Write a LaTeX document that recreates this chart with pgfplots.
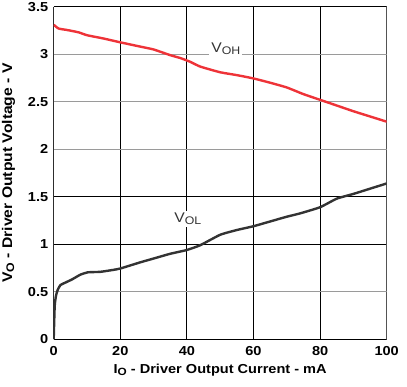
\documentclass[border=0pt]{standalone}
\usepackage{fontspec}
\setmainfont{Liberation Sans}
\newfontfamily\widefont[FakeStretch=1.12]{Liberation Sans}
\usepackage{pgfplots}
\pgfplotsset{compat=1.18}
\definecolor{redline}{HTML}{EE3338}
\definecolor{darkline}{HTML}{333333}
\definecolor{gridgray}{HTML}{9A9A9A}
\newcommand{\sub}[2]{{\fontsize{#1}{#1}\selectfont\raisebox{-0.35ex}{#2}}}
\begin{document}
\begin{tikzpicture}
\path[use as bounding box] (-53.7pt,-46.7pt) rectangle (353.3pt,339.3pt);
\begin{axis}[
  scale only axis,
  width=333pt, height=332.6pt,
  xmin=0, xmax=100, ymin=0, ymax=3.5,
  xtick={0,20,40,60,80,100},
  ytick={0,0.5,1,1.5,2,2.5,3,3.5},
  yticklabels={0,0.5,1,1.5,2,2.5,3,3.5},
  major tick length=0pt,
  axis line style={draw=none},
  xmajorgrids=true, ymajorgrids=true,
  major x grid style={black, line width=1pt},
  major y grid style={gridgray, line width=1.4pt},
  extra y ticks={1,1.5},
  extra y tick labels={},
  extra y tick style={ymajorgrids=true, major y grid style={black, line width=1pt}},
  tick label style={font=\widefont\fontsize{13}{15}\selectfont\bfseries},
  /pgf/number format/assume math mode=true,
  xticklabel style={yshift=-4pt},
  yticklabel style={xshift=-2pt},
  xlabel={I\sub{10.5}{O} - Driver Output Current - mA},
  ylabel={V\sub{11}{O} - Driver Output Voltage - V},
  xlabel style={font=\widefont\fontsize{13}{15}\selectfont\bfseries, yshift=-1pt},
  ylabel style={font=\widefont\fontsize{14}{16}\selectfont\bfseries, yshift=6pt},
  clip=true,
]
\draw[black, line width=1pt] (rel axis cs:0,1)--(rel axis cs:1,1);
\draw[black, line width=1pt] (rel axis cs:0,0)--(rel axis cs:1,0);
\draw[gray, line width=1pt] (rel axis cs:0,0)--(rel axis cs:0,1);
\draw[gray, line width=1pt] (rel axis cs:1,0)--(rel axis cs:1,1);
\addplot[redline, line width=2.4pt, smooth, tension=0.3] coordinates {
(0,3.31) (1.5,3.27) (4,3.255) (7.5,3.23) (10,3.20) (15,3.165) (20,3.125) (26,3.08) (30,3.05) (35,2.99) (38,2.96) (41,2.92) (44,2.87) (50,2.81) (55,2.78) (60,2.745) (65,2.70) (70,2.65) (75,2.58) (80,2.52) (85,2.46) (90,2.40) (95,2.345) (100,2.29)};
\addplot[darkline, line width=2.4pt, smooth, tension=0.3] coordinates {
(0,0) (0.3,0.35) (0.7,0.46) (1.2,0.52) (2,0.57) (3.7,0.60) (5.5,0.63) (8,0.68) (10.3,0.705) (14,0.71) (17.8,0.73) (20,0.745) (26,0.81) (30,0.85) (35,0.90) (40,0.94) (44,0.99) (50,1.10) (55,1.15) (60,1.19) (65,1.24) (70,1.29) (74,1.325) (80,1.39) (85,1.48) (90,1.53) (95,1.585) (100,1.64)};
\node[fill=white, inner sep=2pt, text=darkline, font=\widefont\fontsize{14}{16}\selectfont] at (axis cs:51.7,3.06) {V\sub{11}{OH}};
\node[fill=white, inner sep=2pt, text=darkline, font=\widefont\fontsize{14}{16}\selectfont] at (axis cs:40.3,1.265) {V\sub{11}{OL}};
\end{axis}
\end{tikzpicture}
\end{document}
